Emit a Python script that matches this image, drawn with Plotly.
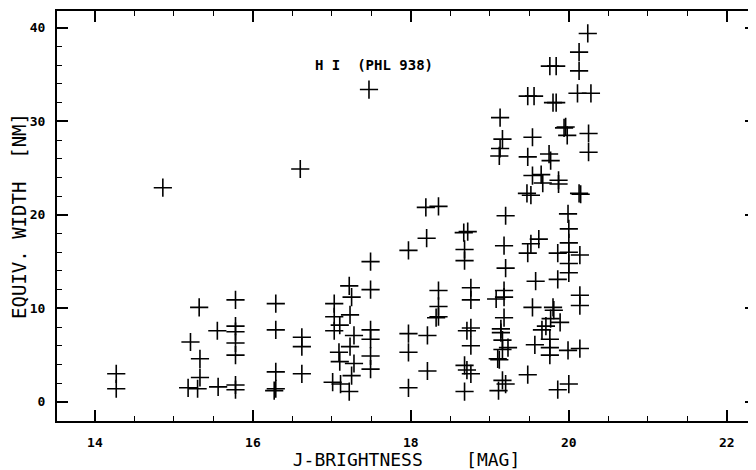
import plotly.graph_objects as go

# J-brightness [mag]
j_mag = [
    14.27, 14.27,
    14.86,
    15.21, 15.18,
    15.32, 15.33, 15.33, 15.30,
    15.55, 15.56,
    15.78, 15.78, 15.78, 15.78, 15.78, 15.78, 15.78,
    16.29, 16.29, 16.29, 16.29, 16.27,
    16.60, 16.62, 16.62, 16.62,
    17.03, 17.03, 17.10, 17.03, 17.01,
    17.09, 17.10, 17.11,
    17.22, 17.25, 17.23, 17.28, 17.23, 17.28, 17.25, 17.22,
    17.47, 17.49, 17.49, 17.49, 17.49, 17.49, 17.49,
    17.97, 17.97, 17.97, 17.97,
    18.19, 18.20, 18.21, 18.21,
    18.35, 18.35, 18.35, 18.35, 18.32,
    18.72, 18.67, 18.68, 18.68, 18.76, 18.76, 18.71, 18.76, 18.76, 18.68, 18.71, 18.76, 18.68,
    19.13, 19.16, 19.13, 19.12, 19.20, 19.18, 19.20, 19.18, 19.08, 19.18, 19.18,
    19.14, 19.14, 19.16, 19.23, 19.16, 19.10, 19.12, 19.16, 19.20, 19.11,
    19.48, 19.56, 19.54, 19.48, 19.54, 19.65, 19.67, 19.47, 19.52, 19.62, 19.52,
    19.48, 19.58, 19.54, 19.57, 19.48,
    19.76, 19.84, 19.80, 19.84, 19.75, 19.77, 19.87, 19.87, 19.86, 19.86, 19.80,
    19.81, 19.77, 19.71, 19.66, 19.89, 19.76, 19.76, 19.76, 19.86,
    19.96, 19.94, 19.98, 19.99, 20.00, 20.00, 20.00, 20.00, 20.00, 19.99, 20.00,
    20.24, 20.13, 20.13, 20.11, 20.28, 20.25, 20.25, 20.13, 20.15, 20.14, 20.14, 20.14, 20.14,
]

# Equivalent width [nm]
eq_width = [
    3.0, 1.4,
    22.9,
    6.4, 1.5,
    10.1, 4.6, 2.6, 1.4,
    7.6, 1.6,
    10.9, 8.1, 7.5, 6.3, 5.0, 1.8, 1.3,
    10.5, 7.7, 3.2, 1.4, 1.2,
    24.9, 6.9, 5.9, 3.0,
    10.5, 9.1, 8.2, 7.6, 2.1,
    5.3, 4.3, 1.9,
    12.4, 11.2, 9.3, 7.1, 5.9, 4.1, 2.8, 1.1,
    33.4, 15.0, 12.0, 7.7, 6.7, 4.9, 3.5,
    16.2, 7.3, 5.3, 1.5,
    20.8, 17.5, 7.1, 3.3,
    20.9, 11.9, 10.2, 9.1, 9.0,
    18.2, 18.1, 16.3, 15.1, 12.2, 10.9, 7.6, 7.9, 6.0, 3.9, 3.4, 3.0, 1.1,
    30.4, 28.1, 27.1, 26.3, 19.9, 16.7, 14.3, 11.9, 11.0, 11.2, 9.0,
    7.8, 7.4, 6.6, 5.8, 5.6, 4.6, 4.5, 2.3, 1.9, 1.2,
    32.7, 32.7, 28.3, 26.2, 24.2, 24.3, 23.4, 22.3, 22.1, 17.4, 16.9,
    15.9, 12.9, 10.1, 6.1, 2.9,
    35.9, 35.9, 32.0, 32.0, 26.5, 25.8, 23.7, 23.3, 15.9, 13.1, 10.1,
    9.8, 8.9, 8.1, 7.7, 8.5, 6.7, 5.8, 5.0, 1.3,
    29.4, 29.3, 28.5, 20.1, 18.5, 17.0, 16.0, 14.8, 13.8, 5.5, 1.9,
    39.4, 37.4, 35.4, 33.0, 33.0, 28.7, 26.7, 22.3, 22.2, 15.7, 11.4, 10.3, 5.7,
]

label_text = "H I  (PHL 938)"
label_pos = (17.53, 36.0)

x_ticks = [14, 16, 18, 20, 22]
y_ticks = [0, 10, 20, 30, 40]

FONT = "DejaVu Sans Mono"

fig = go.Figure()
fig.add_trace(go.Scatter(
    x=j_mag, y=eq_width, mode="markers",
    marker=dict(symbol="cross-thin-open", size=13,
                line=dict(width=1.6, color="black"), color="black"),
    showlegend=False, hoverinfo="skip",
))

fig.add_annotation(x=label_pos[0], y=label_pos[1], text=label_text,
                   showarrow=False, font=dict(family=FONT, size=14, color="black", weight="bold"))

axis_common = dict(
    showgrid=False, zeroline=False, showline=True, linecolor="black", linewidth=2,
    ticks="inside", tickcolor="black", tickwidth=1.5, ticklen=11,
    mirror="allticks", automargin=False,
    tickfont=dict(family=FONT, size=13, color="black", weight="bold"),
)

fig.update_xaxes(
    **axis_common, range=[13.52, 22.37], tickvals=x_ticks, ticklabelstandoff=8,
    minor=dict(dtick=0.5, tick0=14, ticks="inside", ticklen=5, tickcolor="black", tickwidth=1.2),
    title=dict(text="J-BRIGHTNESS    [MAG]", font=dict(family=FONT, size=18, color="black"), standoff=6),
)
fig.update_yaxes(
    **axis_common, range=[-2.05, 41.8], tickvals=y_ticks, ticklabelstandoff=7,
    minor=dict(dtick=2, tick0=0, ticks="inside", ticklen=5, tickcolor="black", tickwidth=1.2),
    title=dict(text="EQUIV. WIDTH  [NM]", font=dict(family=FONT, size=19, color="black"), standoff=5),
)

# page body has an 8px margin, so the figure is shrunk by 8px to fit the 756x470 window
fig.update_layout(
    width=748, height=462,
    margin=dict(l=49, r=0, t=3, b=49),
    plot_bgcolor="white", paper_bgcolor="white",
)

fig.write_html("out.html")
